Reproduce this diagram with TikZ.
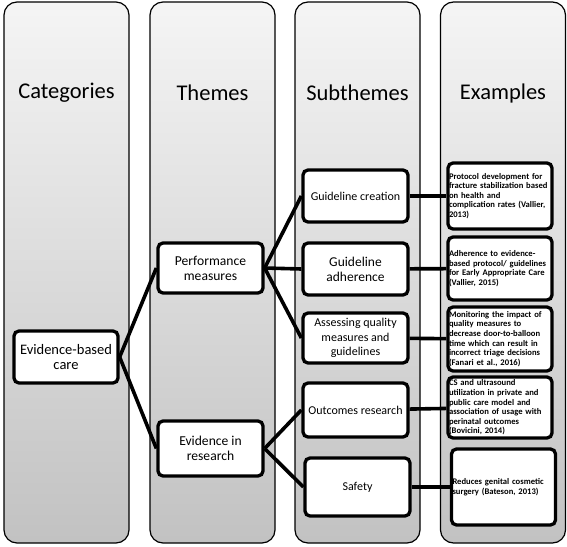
\documentclass[tikz,border=0pt]{standalone}
\usepackage{fontspec}
\setmainfont{Carlito}
\usepackage{tikz}
\usetikzlibrary{positioning,calc}

\begin{document}
\begin{tikzpicture}[
  x=1pt, y=-1pt,
  column/.style={draw, line width=1.2pt, rounded corners=13pt,
    top color=black!4, bottom color=black!24, minimum width=125pt,
    minimum height=541pt},
  header/.style={font=\fontsize{22.5}{26}\selectfont},
  subbox/.style={draw, line width=3.3pt, rounded corners=5pt, fill=white,
    align=center, minimum width=105pt, inner sep=2pt,
    font=\fontsize{12}{14.5}\selectfont},
  thmbox/.style={subbox, font=\fontsize{13.6}{15}\selectfont},
  exbox/.style={draw, line width=3.3pt, rounded corners=5pt, fill=white,
    align=left, text width=102pt, inner xsep=1pt, inner ysep=2pt,
    font=\fontsize{8.6}{9.6}\selectfont\bfseries},
  link/.style={line width=3.6pt}
]
\useasboundingbox (0,0) rectangle (567,546);

% background columns
\node[column] (colcat) at (66.5,272.5) {};
\node[column] (colthm) at (212.5,272.5) {};
\node[column] (colsub) at (357.5,272.5) {};
\node[column] (colex)  at (503,272.5) {};

\node[header] (hcat) at (66.5,93) {Categories};
\node[header] (hthm) at (212.5,93) {Themes};
\node[header] (hsub) at (357.5,93) {Subthemes};
\node[header] (hex)  at (503,93) {Examples};

% category and themes
\node[thmbox, minimum width=104pt, minimum height=52pt,
  font=\fontsize{14.5}{15.5}\selectfont] (ebc) at (66,357)
  {Evidence-based\\care};
\node[thmbox, minimum height=50pt] (perf) at (210.5,268)
  {Performance\\measures};
\node[thmbox, minimum height=55pt] (evres) at (210.5,448.5)
  {Evidence in\\research};

% subthemes
\node[subbox, minimum height=52pt] (gcreate) at (355.5,196)
  {Guideline creation};
\node[subbox, minimum height=52pt, font=\fontsize{13.5}{15}\selectfont]
  (gadhere) at (355.5,269) {Guideline\\adherence};
\node[subbox, minimum height=50pt] (assess) at (355.5,338)
  {Assessing quality\\measures and\\guidelines};
\node[subbox, minimum height=54pt] (outres) at (355.5,410)
  {Outcomes research};
\node[subbox, minimum height=58pt] (safety) at (357.5,487)
  {Safety};

% examples
\node[exbox, minimum height=66pt] (ex1) at (500,196)
  {Protocol development for\\fracture stabilization based\\on health and\\complication rates (Vallier,\\2013)};
\node[exbox, minimum height=63pt] (ex2) at (500,268.5)
  {Adherence to evidence-\\based protocol/ guidelines\\for Early Appropriate Care\\(Vallier, 2015)};
\node[exbox, minimum height=64pt] (ex3) at (500,339)
  {Monitoring the impact of\\quality measures to\\decrease door-to-balloon\\time which can result in\\incorrect triage decisions\\(Fanari et al., 2016)};
\node[exbox, minimum height=61pt] (ex4) at (500,407.5)
  {CS and ultrasound\\utilization in private and\\public care model and\\association of usage with\\perinatal outcomes\\(Bovicini, 2014)};
\node[exbox, minimum height=76pt] (ex5) at (503.5,487)
  {Reduces genital cosmetic\\surgery (Bateson, 2013)};

\draw[link] (ebc.east)--(perf.west);
\draw[link] (ebc.east)--(evres.west);
\draw[link] (perf.east)--(gcreate.west);
\draw[link] (perf.east)--(gadhere.west);
\draw[link] (perf.east)--(assess.west);
\draw[link] (evres.east)--(outres.west);
\draw[link] (evres.east)--(safety.west);
\draw[link] (gcreate)--(ex1);
\draw[link] (gadhere)--(ex2);
\draw[link] (assess)--(ex3);
\draw[link] (outres)--(ex4);
\draw[link] (safety)--(ex5);
\end{tikzpicture}
\end{document}
